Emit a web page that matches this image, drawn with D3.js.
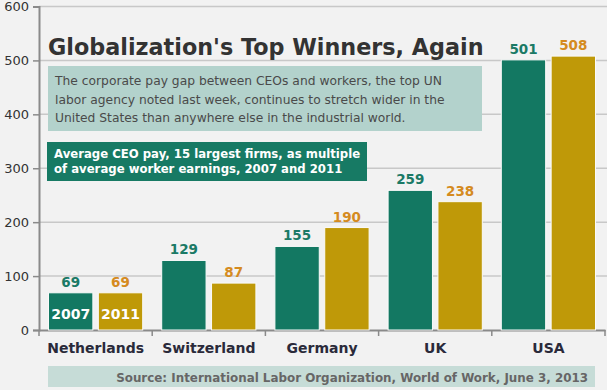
<!DOCTYPE html>
<html><head><meta charset="utf-8">
<script src="https://cdn.jsdelivr.net/npm/d3@7"></script>
<style>body{margin:0;background:#f2f2f2;}svg{display:block;}</style>
</head><body>
<svg id="c" width="607" height="390"></svg>
<script>
const categories = ["Netherlands","Switzerland","Germany","UK","USA"];
const years = ["2007","2011"];
const values2007 = [69,129,155,259,501];
const values2011 = [69,87,190,238,508];
const yTicks = [0,100,200,300,400,500,600];
const colors = {"2007":"#137862","2011":"#bf9908"};
const labelColors = {"2007":"#1b7a66","2011":"#d58b1f"};

const svg = d3.select("#c");
const font = "Verdana, 'DejaVu Sans', sans-serif";
svg.append("rect").attr("width",607).attr("height",390).attr("fill","#f2f2f2");

const x = d3.scaleBand().domain(categories).range([39,605]).paddingInner(0).paddingOuter(0);
const x1 = d3.scaleBand().domain(years).range([9.5, x.bandwidth()-9.5]).paddingInner(0.11);
const y = d3.scaleLinear().domain([0,600]).range([330,6.5]);

// grid
svg.append("g").selectAll("line").data(yTicks.filter(d=>d>0)).join("line")
  .attr("x1",39).attr("x2",607).attr("y1",d=>y(d)).attr("y2",d=>y(d))
  .attr("stroke","#c8c8c8").attr("stroke-width",1.5);

// y axis
const ya = svg.append("g").attr("transform","translate(39,0)")
  .call(d3.axisLeft(y).tickValues(yTicks).tickSize(6).tickPadding(4).tickFormat(d3.format("d")));
ya.select(".domain").attr("stroke","#8a8a8a").attr("stroke-width",2);
ya.selectAll(".tick line").attr("stroke","#8a8a8a").attr("stroke-width",1.5);
ya.selectAll("text").attr("font-family",font).attr("font-size",13).attr("fill","#333");

// x axis
const xa = svg.append("g").attr("transform","translate(0,330)")
  .call(d3.axisBottom(x).tickSize(0).tickPadding(13));
xa.select(".domain").attr("stroke","#8a8a8a").attr("stroke-width",2);
xa.selectAll("text").attr("font-family",font).attr("font-size",14).attr("font-weight","bold").attr("fill","#2a2a3a");
svg.append("g").selectAll("line").data(d3.range(categories.length+1)).join("line")
  .attr("x1",i=>39+i*x.bandwidth()).attr("x2",i=>39+i*x.bandwidth())
  .attr("y1",330).attr("y2",336).attr("stroke","#8a8a8a").attr("stroke-width",1.5);

// title & boxes
svg.append("text").attr("x",48).attr("y",55).attr("font-family",font).attr("font-size",22.3)
  .attr("font-weight","bold").attr("fill","#333").text("Globalization's Top Winners, Again");
svg.append("rect").attr("x",48).attr("y",66).attr("width",434).attr("height",65).attr("fill","#b3d2cc");
const desc = ["The corporate pay gap between CEOs and workers, the top UN",
  "labor agency noted last week, continues to stretch wider in the",
  "United States than anywhere else in the industrial world."];
svg.append("g").selectAll("text").data(desc).join("text")
  .attr("x",55).attr("y",(d,i)=>85+i*18.5).attr("font-family",font).attr("font-size",12.3)
  .attr("fill","#4a4a4a").text(d=>d);
svg.append("rect").attr("x",47).attr("y",142).attr("width",320).attr("height",39).attr("fill","#177a64");
const sub = ["Average CEO pay, 15 largest firms, as multiple","of average worker earnings, 2007 and 2011"];
svg.append("g").selectAll("text").data(sub).join("text")
  .attr("x",54).attr("y",(d,i)=>158+i*14.5).attr("font-family",font).attr("font-size",11.7)
  .attr("font-weight","bold").attr("fill","#fff").text(d=>d);

// bars
const data = categories.map((c,i)=>({c, vals:[{y:"2007",v:values2007[i]},{y:"2011",v:values2011[i]}]}));
const g = svg.append("g").selectAll("g").data(data).join("g").attr("transform",d=>`translate(${x(d.c)},0)`);
g.selectAll("rect").data(d=>d.vals).join("rect")
  .attr("x",d=>x1(d.y)).attr("width",x1.bandwidth())
  .attr("y",d=>y(d.v)).attr("height",d=>y(0)-y(d.v))
  .attr("fill",d=>colors[d.y]).attr("stroke","#fafafa").attr("stroke-width",1);
g.selectAll("text.v").data(d=>d.vals).join("text").attr("class","v")
  .attr("x",d=>x1(d.y)+x1.bandwidth()/2).attr("y",d=>y(d.v)-6)
  .attr("text-anchor","middle").attr("font-family",font).attr("font-size",13.5).attr("font-weight","bold")
  .attr("fill",d=>labelColors[d.y]).text(d=>d.v);
// year labels inside first group
svg.append("g").selectAll("text").data(years).join("text")
  .attr("x",d=>x(categories[0])+x1(d)+x1.bandwidth()/2).attr("y",318.5)
  .attr("text-anchor","middle").attr("font-family",font).attr("font-size",14).attr("font-weight","bold")
  .attr("fill","#fff").text(d=>d);

// source
svg.append("rect").attr("x",48).attr("y",366).attr("width",547).attr("height",21).attr("fill","#c6dcd7");
svg.append("text").attr("x",588).attr("y",381.5).attr("text-anchor","end").attr("font-family",font)
  .attr("font-size",11.9).attr("font-weight","bold").attr("fill","#666")
  .text("Source: International Labor Organization, World of Work, June 3, 2013");
</script>
</body></html>
